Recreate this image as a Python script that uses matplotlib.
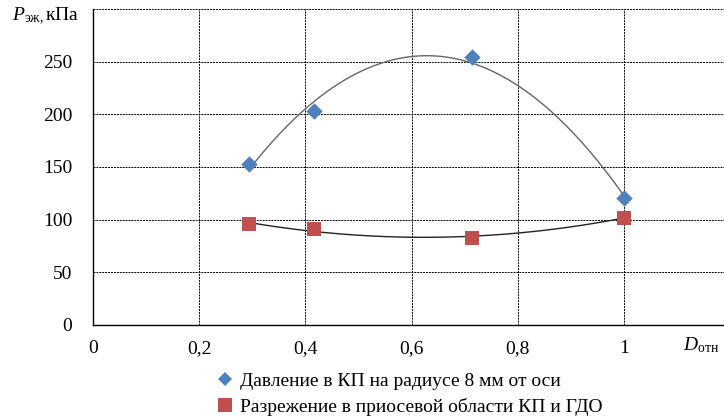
import numpy as np
import matplotlib
matplotlib.use("Agg")
import matplotlib.pyplot as plt
from matplotlib.lines import Line2D

plt.rcParams['font.family'] = ['Liberation Serif', 'DejaVu Serif']
plt.rcParams['mathtext.fontset'] = 'custom'
plt.rcParams['mathtext.rm'] = 'Liberation Serif'
plt.rcParams['mathtext.it'] = 'Liberation Serif:italic'

# Relative diameter
d_rel = [0.294, 0.416, 0.714, 1.0]
# Pressure in the swirl chamber at 8 mm radius, kPa
pressure = [153, 203, 254, 121]
# Vacuum in the near-axis region, kPa
vacuum = [96, 91, 83, 102]

series_labels = ["Давление в КП на радиусе 8 мм от оси",
                 "Разрежение в приосевой области КП и ГДО"]
x_ticks = [0, 0.2, 0.4, 0.6, 0.8, 1.0]
x_tick_labels = ["0", "0,2", "0,4", "0,6", "0,8", "1"]
y_ticks = [0, 50, 100, 150, 200, 250, 300]
y_tick_labels = ["0", "50", "100", "150", "200", "250", ""]

fig = plt.figure(figsize=(7.24, 4.18), dpi=100)
ax = fig.add_axes([0.1285, 0.2225, 0.88, 0.756])
ax.set_xlim(0, 1.2)
ax.set_ylim(0, 300)

blue = "#4F81BD"
red = "#C0504D"

# quadratic trend lines
xs = np.linspace(min(d_rel), max(d_rel), 200)
cp = np.polyfit(d_rel, pressure, 2)
cv = np.polyfit(d_rel, vacuum, 2)
ax.plot(xs, np.polyval(cp, xs), color="#666666", lw=1.0, zorder=2)
ax.plot(xs, np.polyval(cv, xs), color="#222222", lw=1.0, zorder=2)

ax.scatter(d_rel, pressure, marker="D", s=70, color=blue, zorder=3, linewidths=0)
ax.scatter(d_rel, vacuum, marker="s", s=110, color=red, zorder=3, linewidths=0)

ax.set_xticks(x_ticks)
ax.set_xticklabels(x_tick_labels)
ax.set_yticks(y_ticks)
ax.set_yticklabels(y_tick_labels)
ax.tick_params(length=0, labelsize=14, pad=15)
ax.tick_params(axis='x', pad=11)

ax.grid(True, color="black", linestyle=(0, (2, 1)), lw=0.7)
for side in ("top", "right"):
    ax.spines[side].set_visible(False)
ax.spines["left"].set_linewidth(1.0)
ax.spines["bottom"].set_linewidth(1.0)

fig.text(0.016, 0.952, r"$\mathit{P}_{\mathrm{эж},}$кПа", fontsize=14, ha="left", va="baseline")
fig.text(0.943, 0.163, r"$\mathit{D}_{\mathrm{отн}}$", fontsize=14, ha="left", va="baseline")

handles = [Line2D([], [], marker="D", ls="", color=blue, markersize=7, markeredgewidth=0),
           Line2D([], [], marker="s", ls="", color=red, markersize=10, markeredgewidth=0)]
fig.legend(handles, series_labels, loc="center", bbox_to_anchor=(0.565, 0.057),
           frameon=False, fontsize=14, handletextpad=0.3, labelspacing=0.42,
           handlelength=1.0)

fig.savefig("out.png", dpi=100)
